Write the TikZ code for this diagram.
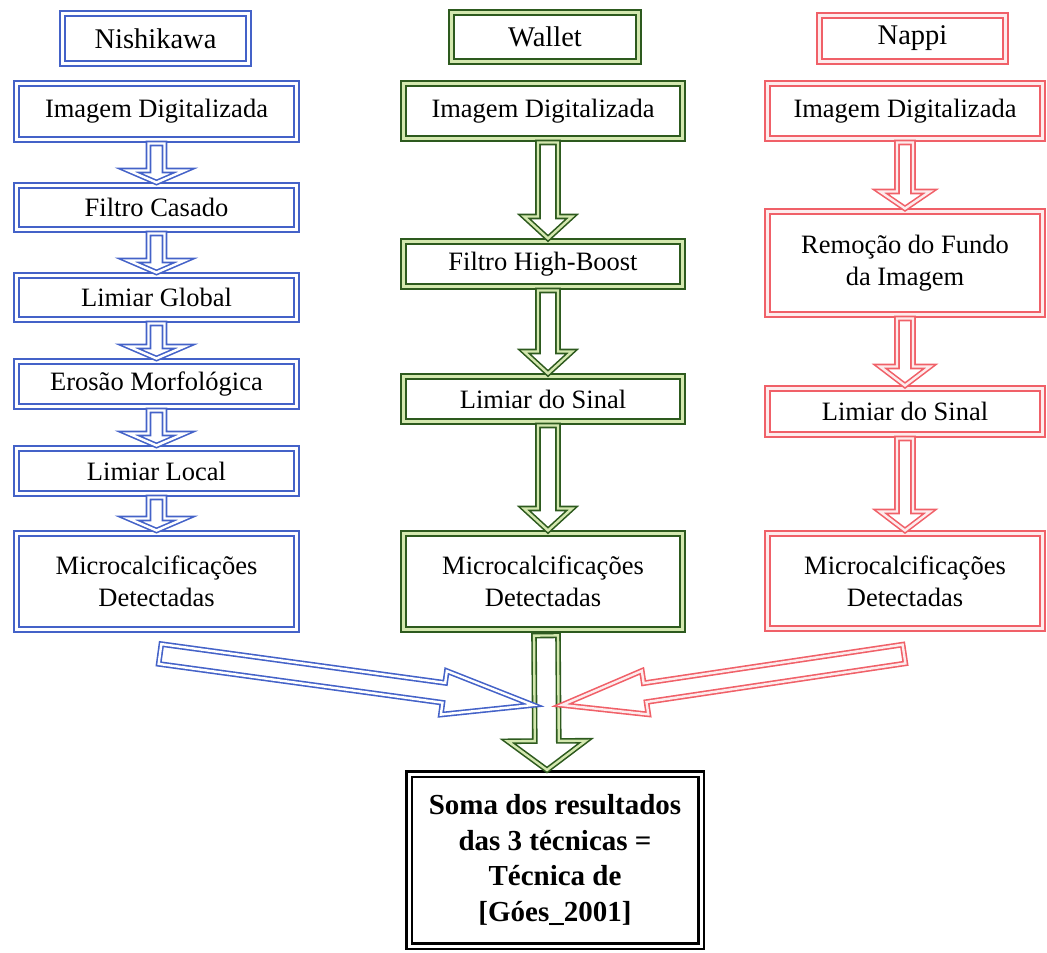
\documentclass[tikz,border=0pt]{standalone}
\usepackage{fontspec}
\setmainfont{Liberation Serif}
\usepackage{xcolor}
\usetikzlibrary{calc}

\definecolor{nishiblue}{RGB}{68,98,200}
\definecolor{walletgreen}{RGB}{45,90,30}
\definecolor{walletlight}{RGB}{212,232,175}
\definecolor{nappired}{RGB}{240,96,104}

\tikzset{
  stage/.style={rectangle, outer sep=0pt, inner sep=0pt, align=center,
    line width=2.2pt, double distance=3pt, font=\fontsize{26.5}{32}\selectfont},
  headbox/.style={stage, font=\fontsize{28.5}{34}\selectfont},
  bluebox/.style={draw=nishiblue, double=white},
  greenbox/.style={draw=walletgreen, double=walletlight},
  redbox/.style={draw=nappired, double=nappired!12},
  sumbox/.style={stage, draw=black, double=white, line width=2.4pt,
    font=\bfseries\fontsize{29}{35.5}\selectfont},
  fat/.style={line width=1.6pt, double distance=2.4pt, line join=miter},
  bluearr/.style={fat, draw=nishiblue, double=white},
  greenarr/.style={fat, draw=walletgreen, double=walletlight},
  redarr/.style={fat, draw=nappired, double=nappired!12}
}

% hollow block arrow: style, tail, tip, shaft half width, head half width, head length
\newcommand{\fatarrow}[6]{%
  \coordinate (fa-h) at ($#3!#6!#2$);
  \draw[#1] ($#2!#4!90:#3$) -- ($(fa-h)!#4!90:#3$) -- ($(fa-h)!#5!90:#3$)
    -- #3 -- ($(fa-h)!#5!-90:#3$) -- ($(fa-h)!#4!-90:#3$)
    -- ($#2!#4!-90:#3$) -- cycle;}

\begin{document}
\begin{tikzpicture}[x=1pt,y=-1pt]
  \useasboundingbox (0,0) rectangle (1047,953);

  % Nishikawa
  \node[headbox, bluebox, minimum width=186pt, minimum height=50pt] (nh) at (155.5,38.5) {Nishikawa};
  \node[stage, bluebox, minimum width=280pt, minimum height=56pt] (b1) at (156.5,111.5) {Imagem Digitalizada};
  \node[stage, bluebox, minimum width=280pt, minimum height=44pt] (b2) at (156.5,207.5) {Filtro Casado};
  \node[stage, bluebox, minimum width=280pt, minimum height=44pt] (b3) at (156.5,297.5) {Limiar Global};
  \node[stage, bluebox, minimum width=280pt, minimum height=45pt] (b4) at (156.5,384) {Erosão Morfológica};
  \node[stage, bluebox, minimum width=280pt, minimum height=45pt] (b5) at (156.5,471) {Limiar Local};
  \node[stage, bluebox, minimum width=280pt, minimum height=96pt] (b6) at (156.5,581.5) {Microcalcificações\\Detectadas};

  % Wallet
  \node[headbox, greenbox, minimum width=187pt, minimum height=49pt] (wh) at (545,37) {Wallet};
  \node[stage, greenbox, minimum width=279pt, minimum height=55pt] (g1) at (543,111) {Imagem Digitalizada};
  \node[stage, greenbox, minimum width=279pt, minimum height=45pt] (g2) at (543,264) {Filtro High-Boost};
  \node[stage, greenbox, minimum width=279pt, minimum height=45pt] (g3) at (543,399) {Limiar do Sinal};
  \node[stage, greenbox, minimum width=279pt, minimum height=96pt] (g4) at (543,581.5) {Microcalcificações\\Detectadas};

  % Nappi
  \node[headbox, redbox, minimum width=186pt, minimum height=46pt] (rh) at (912.5,38.5) {Nappi};
  \node[stage, redbox, minimum width=275pt, minimum height=55pt] (r1) at (905,111) {Imagem Digitalizada};
  \node[stage, redbox, minimum width=275pt, minimum height=103pt] (r2) at (905,263) {Remoção do Fundo\\da Imagem};
  \node[stage, redbox, minimum width=275pt, minimum height=46pt] (r3) at (905,411.5) {Limiar do Sinal};
  \node[stage, redbox, minimum width=275pt, minimum height=95pt] (r4) at (905,581) {Microcalcificações\\Detectadas};

  \node[sumbox, minimum width=292pt, minimum height=172pt] (sum) at (555,860)
    {Soma dos resultados\\das 3 técnicas =\\Técnica de\\{[}Góes\_2001{]}};

  \fatarrow{bluearr}{([yshift=-4pt]b1.south)}{([yshift=3pt]b2.north)}{8pt}{28pt}{12pt}
  \fatarrow{bluearr}{([yshift=-4pt]b2.south)}{([yshift=3pt]b3.north)}{8pt}{28pt}{12pt}
  \fatarrow{bluearr}{([yshift=-4pt]b3.south)}{([yshift=3pt]b4.north)}{8pt}{28pt}{12pt}
  \fatarrow{bluearr}{([yshift=-4pt]b4.south)}{([yshift=3pt]b5.north)}{8pt}{28pt}{12pt}
  \fatarrow{bluearr}{([yshift=-4pt]b5.south)}{([yshift=3pt]b6.north)}{8pt}{28pt}{12pt}

  \fatarrow{greenarr}{([xshift=5pt,yshift=-4pt]g1.south)}{([xshift=5pt,yshift=3pt]g2.north)}{10pt}{24pt}{22pt}
  \fatarrow{greenarr}{([xshift=5pt,yshift=-4pt]g2.south)}{([xshift=5pt,yshift=3pt]g3.north)}{10pt}{24pt}{22pt}
  \fatarrow{greenarr}{([xshift=5pt,yshift=-4pt]g3.south)}{([xshift=5pt,yshift=3pt]g4.north)}{10pt}{24pt}{22pt}
  \fatarrow{greenarr}{([xshift=3pt,yshift=-6pt]g4.south)}{([xshift=-8pt,yshift=4pt]sum.north)}{12pt}{39pt}{29pt}

  \fatarrow{redarr}{([yshift=-4pt]r1.south)}{([yshift=3pt]r2.north)}{8pt}{25pt}{17pt}
  \fatarrow{redarr}{([yshift=-4pt]r2.south)}{([yshift=3pt]r3.north)}{8pt}{25pt}{19pt}
  \fatarrow{redarr}{([yshift=-4pt]r3.south)}{([yshift=3pt]r4.north)}{8pt}{25pt}{19pt}

  % the two side results flow into the sum
  \coordinate (btail) at (160,654);
  \coordinate (bjoin) at (533,705);
  \coordinate (rtail) at (904,654);
  \coordinate (rjoin) at (562,705);
  \fatarrow{bluearr}{(btail)}{(bjoin)}{10pt}{22pt}{90pt}
  \fatarrow{redarr}{(rtail)}{(rjoin)}{9.5pt}{22pt}{84pt}
\end{tikzpicture}
\end{document}
